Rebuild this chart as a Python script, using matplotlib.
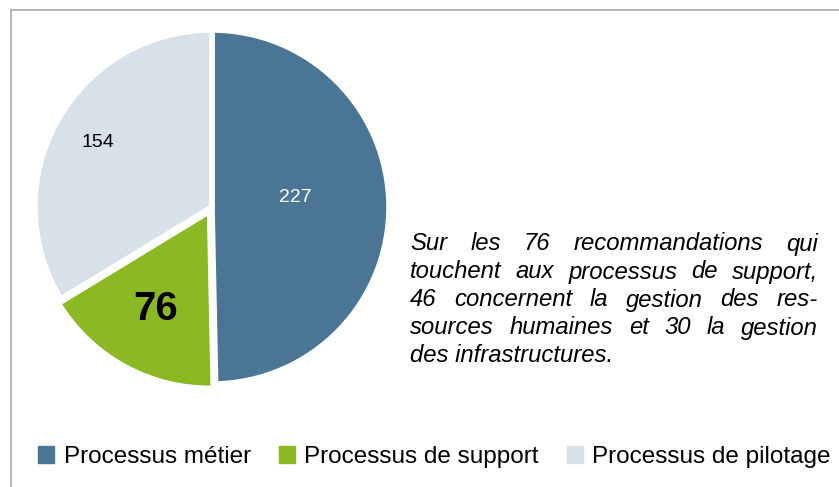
import numpy as np
import matplotlib.pyplot as plt
from matplotlib.lines import Line2D

categories = ['Processus métier', 'Processus de support', 'Processus de pilotage']
values = [227, 76, 154]
colors = ['#4a7595', '#8cb923', '#d8e0ea']
explode = [0, 0.028, 0]

note_lines = [
    'Sur les 76 recommandations qui',
    'touchent aux processus de support,',
    '46 concernent la gestion des res-',
    'sources humaines et 30 la gestion',
    'des infrastructures.',
]

plt.rcParams['font.family'] = ['Liberation Sans', 'DejaVu Sans']

W, H = 839, 487
fig = plt.figure(figsize=(W / 100, H / 100), dpi=100)

# pie axes: centre (212, 207) px, radius ~177 px
cx, cy, r = 212, 207, 177
pad = 1.06
ax = fig.add_axes([(cx - r * pad) / W, (H - cy - r * pad) / H, 2 * r * pad / W, 2 * r * pad / H])
wedges, _ = ax.pie(values, colors=colors, explode=explode, startangle=90, counterclock=False,
                   radius=1, wedgeprops=dict(edgecolor='white', linewidth=4))
ax.set_xlim(-pad, pad)
ax.set_ylim(-pad, pad)
ax.set_aspect('equal')
ax.axis('off')

# value labels
label_style = [
    dict(dist=0.47, dy=0.05, color='white', size=14, weight='normal'),
    dict(dist=0.66, dy=0.0, color='black', size=29, weight='bold'),
    dict(dist=0.74, dy=0.0, color='black', size=14, weight='normal'),
]
for w, v, st in zip(wedges, values, label_style):
    ang = np.deg2rad((w.theta1 + w.theta2) / 2)
    ax.text(st['dist'] * np.cos(ang), st['dist'] * np.sin(ang) + st['dy'], str(v),
            ha='center', va='center', color=st['color'], fontsize=st['size'], fontweight=st['weight'])

# justified italic note
renderer = fig.canvas.get_renderer()
x0, x1 = 410 / W, 818 / W
y_first, line_h = 244, 28
fs = 17.2
for i, line in enumerate(note_lines):
    y = 1 - (y_first + i * line_h) / H
    words = line.split(' ')
    if i == len(note_lines) - 1:
        fig.text(x0, y, line, fontsize=fs, style='italic', va='center', ha='left')
        continue
    arts = [fig.text(0, y, wd, fontsize=fs, style='italic', va='center', ha='left') for wd in words]
    widths = [a.get_window_extent(renderer).width / W for a in arts]
    gap = (x1 - x0 - sum(widths)) / (len(words) - 1)
    x = x0
    for a, wdt in zip(arts, widths):
        a.set_x(x)
        x += wdt + gap

# legend
handles = [plt.Rectangle((0, 0), 1, 1, color=c) for c in colors]
fig.legend(handles, categories, loc='center', bbox_to_anchor=(0.518, 1 - 457 / H), ncol=3,
           frameon=False, fontsize=17.5, handlelength=0.65, handleheight=0.65,
           handletextpad=0.4, columnspacing=1.15)

# frame lines (top and left)
fig.add_artist(Line2D([10.5 / W, 1], [1 - 9.5 / H, 1 - 9.5 / H], color='#aaaaaa', lw=1.2))
fig.add_artist(Line2D([10.5 / W, 10.5 / W], [0, 1 - 9.5 / H], color='#aaaaaa', lw=1.2))

fig.savefig('out.png', dpi=100)
